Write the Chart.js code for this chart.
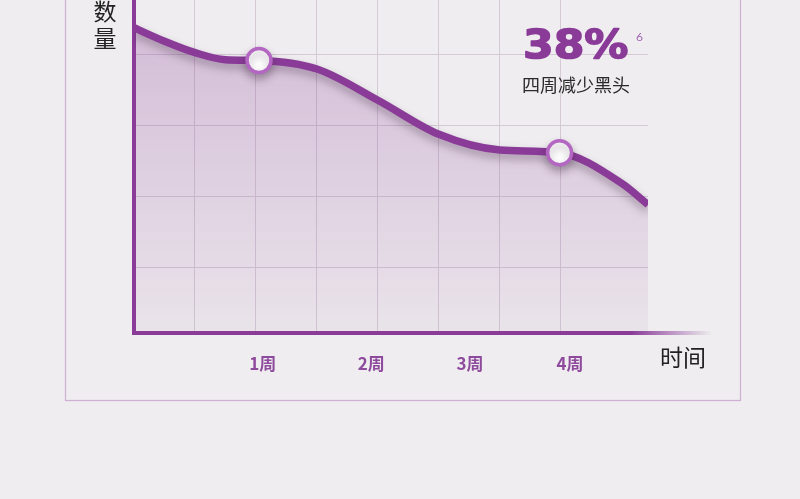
<!DOCTYPE html>
<html>
<head>
<meta charset="utf-8">
<script src="https://cdn.jsdelivr.net/npm/chart.js@4"></script>
<style>
  html, body { margin: 0; padding: 0; background: #efedef; }
  canvas { display: block; }
</style>
</head>
<body>
<canvas id="chart" width="800" height="499"></canvas>
<script>
// positions along the time axis (grid columns) and the blackhead count
const timePos = [0, 0.5, 1, 1.5, 2.05, 3, 4, 5, 6, 6.98, 8, 8.43];
const counts = [4.38, 4.19, 4.03, 3.93, 3.92, 3.8, 3.36, 2.88, 2.66, 2.62, 2.19, 1.89];
const markerIdx = [4, 9];

// tick labels under the axis
const weekLabels = ['1周', '2周', '3周', '4周'];
const weekPos = [2.11, 3.89, 5.51, 7.15];

const gridX = [1, 2, 3, 4, 5, 6, 7];
const gridY = [1, 2, 3, 4];

const purple = '#8a3b98';

const decor = {
    id: 'decor',
    beforeDraw(chart) {
        const ctx = chart.ctx;
        ctx.save();
        ctx.strokeStyle = '#cfb0d4';
        ctx.lineWidth = 1.2;
        ctx.strokeRect(65.5, -5, 675, 405.5);
        ctx.restore();
    },
    beforeDatasetDraw(chart) {
        const ctx = chart.ctx;
        ctx.save();
        ctx.shadowColor = 'rgba(60, 40, 60, 0.35)';
        ctx.shadowBlur = 8;
        ctx.shadowOffsetY = 5;
    },
    afterDatasetDraw(chart) {
        chart.ctx.restore();
    },
    afterDraw(chart) {
        const ctx = chart.ctx;
        const area = chart.chartArea;
        ctx.save();
        // x axis line, fading out on the right
        const g = ctx.createLinearGradient(area.left, 0, 712, 0);
        g.addColorStop(0, purple);
        g.addColorStop(0.86, purple);
        g.addColorStop(1, 'rgba(138, 59, 152, 0)');
        ctx.strokeStyle = g;
        ctx.lineWidth = 4;
        ctx.beginPath();
        ctx.moveTo(area.left - 2, area.bottom);
        ctx.lineTo(712, area.bottom);
        ctx.stroke();

        ctx.fillStyle = '#222';
        ctx.font = '23px "Noto Sans CJK SC"';
        ctx.textAlign = 'center';
        ctx.textBaseline = 'middle';
        ctx.fillText('数', 105, 11);
        ctx.fillText('量', 105, 38);
        ctx.textAlign = 'left';
        ctx.fillText('时间', 660, 357);

        // big percentage, widened a little to match the heavy geometric face
        ctx.save();
        ctx.translate(523, 58);
        ctx.scale(1.13, 1);
        ctx.fillStyle = purple;
        ctx.strokeStyle = purple;
        ctx.lineWidth = 1.5;
        ctx.lineJoin = 'round';
        ctx.font = 'bold 39px "DejaVu Sans"';
        ctx.textBaseline = 'alphabetic';
        ctx.fillText('38%', 0, 0);
        ctx.strokeText('38%', 0, 0);
        ctx.restore();

        ctx.fillStyle = '#a466b2';
        ctx.font = '12px Lato';
        ctx.textBaseline = 'alphabetic';
        ctx.fillText('6', 636, 41);

        ctx.fillStyle = '#2a2a2a';
        ctx.font = '18px "Noto Sans CJK SC"';
        ctx.textBaseline = 'middle';
        ctx.fillText('四周减少黑头', 522, 85);
        ctx.restore();
    }
};

const ctx = document.getElementById('chart').getContext('2d');
new Chart(ctx, {
    type: 'line',
    data: {
        datasets: [{
            data: timePos.map((x, i) => ({ x: x, y: counts[i] })),
            borderColor: purple,
            borderWidth: 7.5,
            cubicInterpolationMode: 'monotone',
            fill: 'origin',
            backgroundColor: (c) => {
                const area = c.chart.chartArea;
                if (!area) return 'rgba(138, 59, 152, 0.15)';
                const g = c.chart.ctx.createLinearGradient(0, area.top + 40, 0, area.bottom);
                g.addColorStop(0, 'rgba(138, 59, 152, 0.26)');
                g.addColorStop(1, 'rgba(138, 59, 152, 0.05)');
                return g;
            },
            pointRadius: (c) => markerIdx.includes(c.dataIndex) ? 12 : 0,
            pointHoverRadius: (c) => markerIdx.includes(c.dataIndex) ? 12 : 0,
            pointBackgroundColor: '#ffffff',
            pointBorderColor: '#b466c3',
            pointBorderWidth: 3.5,
        }],
    },
    options: {
        responsive: false,
        animation: false,
        layout: { padding: { left: 0, right: 152, top: 0, bottom: 0 } },
        plugins: {
            legend: { display: false },
            tooltip: { enabled: false },
        },
        scales: {
            x: {
                type: 'linear',
                min: 0,
                max: 8.43,
                afterBuildTicks: (s) => { s.ticks = gridX.map(v => ({ value: v })); },
                afterFit: (s) => { s.height = 0; },
                ticks: { display: false },
                grid: { color: '#d3cad4', lineWidth: 1, drawTicks: false },
                border: { display: false },
            },
            xl: {
                type: 'linear',
                position: 'bottom',
                min: 0,
                max: 8.43,
                afterBuildTicks: (s) => { s.ticks = weekPos.map(v => ({ value: v })); },
                afterFit: (s) => { s.height = 166; },
                ticks: {
                    autoSkip: false,
                    maxRotation: 0,
                    padding: 12,
                    color: '#8e4a9c',
                    font: { family: '"Noto Sans CJK SC"', size: 17, weight: 'bold' },
                    callback: (v, i) => weekLabels[i],
                },
                grid: { display: false },
                border: { display: false },
            },
            y: {
                min: 0.085,
                max: 4.77,
                afterBuildTicks: (s) => { s.ticks = gridY.map(v => ({ value: v })); },
                afterFit: (s) => { s.width = 134; },
                ticks: { display: false },
                grid: { color: '#d3cad4', lineWidth: 1, drawTicks: false },
                border: { color: purple, width: 4 },
            },
        },
    },
    plugins: [decor],
});
</script>
</body>
</html>
